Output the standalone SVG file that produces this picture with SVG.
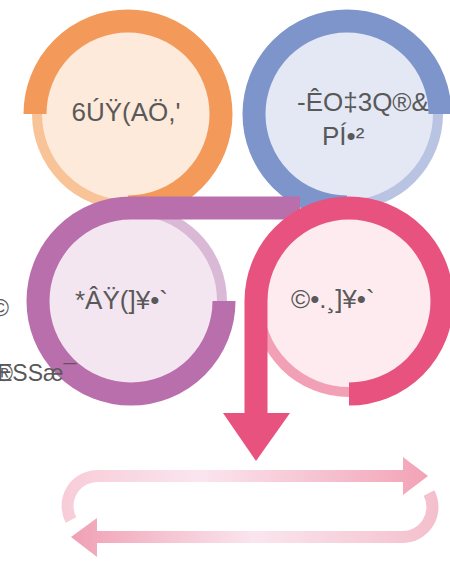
<svg xmlns="http://www.w3.org/2000/svg" width="450" height="566" viewBox="0 0 450 566">
<defs>
<style>
.t{font-family:"Liberation Sans",Arial,sans-serif;font-size:26px;fill:#595959}
.s{font-family:"Liberation Sans",Arial,sans-serif;font-size:23px;fill:#595959}
.arc{fill:none;stroke-width:23;stroke-linecap:butt}
.lr{fill:none;stroke-width:10}
.lp{fill:none;stroke-width:12}
</style>
<linearGradient id="gTop" gradientUnits="userSpaceOnUse" x1="62" y1="0" x2="428" y2="0">
<stop offset="0" stop-color="#f7ccd8"/>
<stop offset="0.38" stop-color="#fae5ee"/>
<stop offset="1" stop-color="#f2a3b6"/>
</linearGradient>
<linearGradient id="gBot" gradientUnits="userSpaceOnUse" x1="71" y1="0" x2="438" y2="0">
<stop offset="0" stop-color="#f0a0b4"/>
<stop offset="0.5" stop-color="#fae5ee"/>
<stop offset="1" stop-color="#f4bfcc"/>
</linearGradient>
</defs>

<g id="node-orange">
<circle cx="128" cy="114" r="87" fill="#fdeadb"/>
<circle cx="128" cy="114" r="91" class="lr" stroke="#f8c396"/>
<path d="M35,114 A93,93 0 1 1 128,207" class="arc" stroke="#f39a5a"/>
<text class="t" x="126" y="121" text-anchor="middle">6ÚŸ(AÖ,'</text>
</g>

<g id="node-blue">
<circle cx="347" cy="114" r="87" fill="#e4e8f5"/>
<circle cx="347" cy="114" r="91" class="lr" stroke="#b9c4e3"/>
<path d="M440,114 A93,93 0 1 0 347,207" class="arc" stroke="#7d95cb"/>
<text class="t" x="297" y="111">-ÊO‡3Q®&amp;</text>
<text class="t" x="322" y="145">PÍ•²</text>
</g>

<g id="node-purple">
<circle cx="131" cy="301" r="87" fill="#f3e6f1"/>
<circle cx="131" cy="301" r="91" class="lr" stroke="#dab9d7"/>
<path d="M224,301 A93,93 0 1 1 131,208 L300,208" class="arc" stroke="#b86fac"/>
<text class="t" x="75" y="309">*ÂŸ(]¥•`</text>
</g>

<g id="node-pink">
<circle cx="349" cy="301" r="87" fill="#fdebf0"/>
<circle cx="349" cy="301" r="91" class="lr" stroke="#f2a0b5"/>
<path d="M349,394 A93,93 0 1 0 256,301 L256,414" class="arc" stroke="#e8527f"/>
<polygon points="223,413 290,413 256,461" fill="#e8527f"/>
<text class="t" x="291" y="308">©•.¸]¥•`</text>
</g>

<g id="labels-left">
<text class="s" x="-8" y="316">©</text>
<text class="s" x="-3" y="381">ESSæ¯</text>
<text class="s" x="-4" y="381">®</text>
</g>

<g id="connectors">
<path d="M71,520 A30,30 0 0 1 98,476 L403,476" class="lp" stroke="url(#gTop)"/>
<polygon points="403,457 428,476 403,495" fill="url(#gTop)"/>
<path d="M429,493 A30,30 0 0 1 402,537 L96,537" class="lp" stroke="url(#gBot)"/>
<polygon points="97,518 71,537 97,557" fill="url(#gBot)"/>
</g>
</svg>
